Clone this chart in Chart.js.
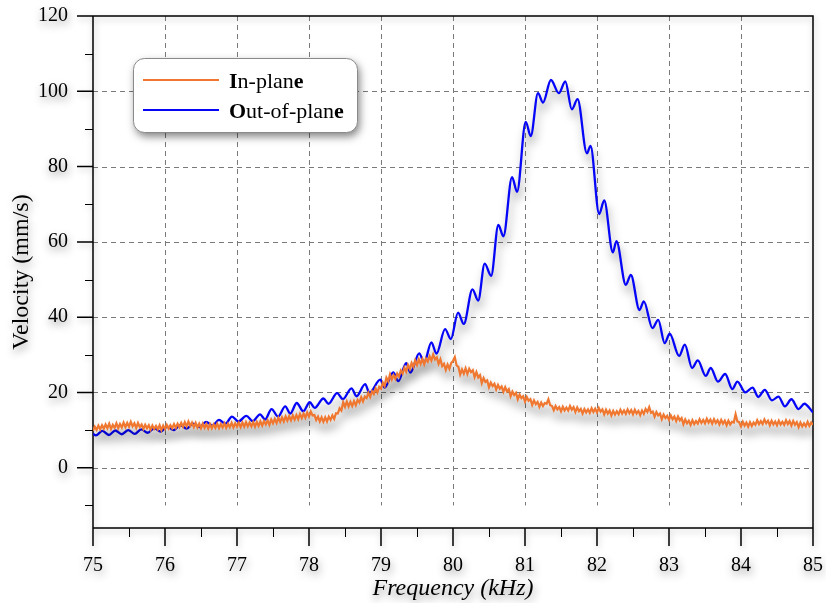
<!DOCTYPE html>
<html>
<head>
<meta charset="utf-8">
<script src="https://cdn.jsdelivr.net/npm/chart.js@4/dist/chart.umd.min.js"></script>
<style>
  html, body { margin: 0; padding: 0; background: #ffffff; }
  #wrap { width: 826px; height: 603px; }
</style>
</head>
<body>
<div id="wrap"><canvas id="c" width="826" height="603"></canvas></div>
<script>
// Axis ticks
const xTicks = [75, 76, 77, 78, 79, 80, 81, 82, 83, 84, 85];
const xMinorTicks = [75.5, 76.5, 77.5, 78.5, 79.5, 80.5, 81.5, 82.5, 83.5, 84.5];
const yTicks = [0, 20, 40, 60, 80, 100, 120];
const yMinorTicks = [-10, 10, 30, 50, 70, 90, 110];

// Out-of-plane velocity (mm/s) against frequency (kHz)
const outOfPlaneFreq = [75.00,75.04,75.13,75.22,75.31,75.40,75.49,75.58,75.67,75.76,
  75.85,75.94,76.03,76.12,76.21,76.30,76.39,76.48,76.57,76.66,
  76.75,76.84,76.93,77.02,77.13,77.22,77.32,77.39,77.48,77.57,
  77.67,77.74,77.83,77.92,78.01,78.08,78.20,78.27,78.39,78.47,
  78.59,78.66,78.78,78.84,78.99,79.05,79.17,79.24,79.35,79.41,
  79.53,79.60,79.70,79.77,79.89,79.97,80.07,80.15,80.27,80.35,
  80.44,80.53,80.63,80.70,80.82,80.89,81.01,81.08,81.18,81.25,
  81.36,81.47,81.56,81.65,81.73,81.86,81.91,82.03,82.10,82.22,
  82.27,82.40,82.47,82.59,82.65,82.77,82.85,82.94,83.01,83.14,
  83.22,83.32,83.40,83.51,83.58,83.68,83.78,83.88,83.95,84.06,
  84.16,84.24,84.33,84.43,84.52,84.61,84.70,84.80,84.88,85.00];
const outOfPlaneVel = [9.0,8.6,9.8,8.7,9.9,8.9,10.0,9.0,10.2,9.3,
  10.5,9.6,10.9,10.0,11.3,10.4,11.7,10.8,12.2,11.2,
  12.7,11.7,13.6,12.3,13.8,12.4,14.2,12.8,15.6,13.6,
  16.3,14.4,17.2,15.0,17.4,15.9,18.4,17.0,19.8,18.2,
  21.1,19.0,22.2,19.9,23.4,21.3,25.3,23.0,27.8,25.3,
  30.4,28.0,33.3,30.3,36.8,34.2,41.2,38.2,47.4,44.4,
  54.2,51.0,64.5,61.5,77.2,73.3,91.9,88.1,99.5,97.0,
  103.0,99.5,102.6,95.2,97.9,83.5,85.5,67.4,71.0,57.2,
  60.2,48.6,51.2,41.9,44.2,37.1,39.3,33.1,35.6,29.7,
  32.7,26.5,28.5,24.4,26.5,22.9,24.9,20.9,22.9,20.0,
  21.3,18.8,20.7,17.9,18.9,16.3,18.2,15.6,17.0,14.7];

// In-plane velocity (mm/s), sampled every 25 Hz from 75 kHz
const inPlaneStart = 75;
const inPlaneStep = 0.025;
const inPlaneVel = [
  9.8,10.9,10.1,11.2, 10.2,11.3,10.4,11.5, 10.5,11.7,10.3,11.4, 10.6,11.8,10.5,11.6, 10.7,12.0,10.8,11.9,
  10.9,12.2,11.0,11.8, 10.6,11.9,10.8,11.5, 10.3,11.4,10.5,11.3, 10.1,11.2,10.3,11.1, 10.2,11.3,10.0,11.2,
  10.3,11.4,10.4,11.3, 10.5,11.6,10.6,11.7, 10.8,11.9,10.9,12.1, 11.0,12.3,11.1,12.0, 10.8,11.9,10.7,11.7,
  10.5,11.7,10.6,11.6, 10.4,11.6,10.5,11.5, 10.6,11.7,10.5,11.6, 10.7,11.8,10.6,11.7, 10.8,11.9,10.7,11.8,
  10.9,12.0,10.8,12.0, 10.9,12.1,11.0,12.0, 11.0,12.1,10.9,12.2, 11.1,12.3,11.2,12.4, 11.5,12.6,11.4,12.8,
  11.8,13.0,11.9,13.3, 12.2,13.4,12.3,13.6, 12.5,13.7,12.6,13.9, 12.8,14.0,12.9,14.3, 13.2,14.4,13.3,14.7,
  13.6,14.9,13.9,14.0, 12.7,13.6,12.3,13.4, 12.2,13.4,12.3,13.6, 12.7,13.9,13.0,14.5, 14.4,15.8,15.2,17.4,
  16.2,17.6,16.3,17.5, 16.4,17.7,16.6,18.0, 17.3,18.7,17.6,18.9, 18.5,19.9,18.8,20.3, 19.6,21.1,20.0,21.5,
  21.0,22.6,21.7,23.9, 23.0,24.8,23.4,24.6, 23.6,25.0,24.2,25.8, 25.0,26.6,25.5,27.3, 26.2,27.8,26.8,28.5,
  27.3,28.8,27.6,28.9, 27.5,29.0,28.2,29.6, 28.5,30.1,28.8,29.3, 27.6,28.8,27.0,27.6, 26.0,27.4,26.3,27.8,
  28.4,29.4,27.2,26.8, 24.8,26.1,25.0,26.4, 24.9,26.3,25.4,25.9, 24.1,25.4,24.0,24.6, 22.5,23.8,22.8,23.2,
  21.4,22.6,21.7,22.3, 20.8,22.0,21.0,21.6, 20.2,21.4,20.3,20.9, 19.0,20.2,19.3,19.9, 18.2,19.4,18.5,19.0,
  17.6,18.8,17.8,18.2, 16.7,17.9,16.9,17.5, 16.2,17.3,16.4,17.2, 17.0,18.2,16.6,16.4, 15.3,16.4,15.5,16.1,
  15.0,16.2,15.2,16.0, 15.2,16.4,15.4,16.1, 14.8,16.0,15.0,15.6, 14.4,15.6,14.7,15.5, 14.6,15.8,14.8,15.7,
  14.7,15.9,14.9,15.5, 14.2,15.4,14.4,15.2, 13.9,15.1,14.1,15.0, 14.2,15.4,14.4,15.2, 14.3,15.5,14.5,15.3,
  14.2,15.4,14.4,15.1, 14.0,15.2,14.3,15.6, 14.8,16.1,14.6,14.9, 13.6,14.8,13.9,14.4, 12.9,14.1,13.2,13.8,
  12.7,13.9,12.9,13.6, 12.4,13.6,12.6,13.2, 11.6,12.8,11.8,12.5, 11.4,12.6,11.6,12.4, 11.7,12.9,11.9,12.7,
  11.8,13.0,12.0,12.8, 11.7,12.9,11.9,12.6, 11.5,12.7,11.7,12.5, 11.3,12.5,11.5,12.2, 12.0,14.2,12.3,12.1,
  11.0,12.2,11.2,12.0, 10.9,12.1,11.1,12.0, 11.4,12.6,11.6,12.4, 11.6,12.8,11.8,12.5, 11.3,12.5,11.5,12.3,
  11.3,12.5,11.5,12.2, 11.4,12.6,11.6,12.4, 11.2,12.4,11.4,12.1, 10.8,12.0,11.0,11.8, 11.0,12.2,11.1,12.0,
  11.4];

const ORANGE = '#f0772f';
const BLUE = '#0505f8';
const SERIF = '"Liberation Serif", "Times New Roman", serif';

const inPlanePoints = inPlaneVel.map((v, i) => ({ x: inPlaneStart + i * inPlaneStep, y: v }));
const outOfPlanePoints = outOfPlaneFreq.map((f, i) => ({ x: f, y: outOfPlaneVel[i] }));

function setShadow(ctx, color, blur, dx, dy) {
  ctx.shadowColor = color;
  ctx.shadowBlur = blur;
  ctx.shadowOffsetX = dx;
  ctx.shadowOffsetY = dy;
}

// Soft drop shadow for tick labels and titles; data lines get their own
const shadowPlugin = {
  id: 'softShadow',
  beforeDraw(chart) {
    const ctx = chart.ctx;
    ctx.save();
    setShadow(ctx, 'rgba(0,0,0,0.45)', 8, 1, 4);
  },
  afterDraw(chart) {
    chart.ctx.restore();
  }
};

// Dashed grid, frame and outer tick marks
const framePlugin = {
  id: 'frame',
  beforeDatasetsDraw(chart) {
    const ctx = chart.ctx;
    const { left, right, top, bottom } = chart.chartArea;
    const xs = chart.scales.x, ys = chart.scales.y;
    ctx.save();
    setShadow(ctx, 'rgba(0,0,0,0)', 0, 0, 0);
    ctx.strokeStyle = '#7a7a7a';
    ctx.lineWidth = 1;
    ctx.setLineDash([5, 4]);
    yTicks.forEach(v => {
      if (v >= ys.max) return;
      const y = Math.round(ys.getPixelForValue(v)) + 0.5;
      ctx.beginPath(); ctx.moveTo(left, y); ctx.lineTo(right, y); ctx.stroke();
    });
    const gridBottom = ys.getPixelForValue(yMinorTicks[0]);
    xTicks.forEach(v => {
      if (v <= xs.min || v >= xs.max) return;
      const x = Math.round(xs.getPixelForValue(v)) + 0.5;
      ctx.beginPath(); ctx.moveTo(x, top); ctx.lineTo(x, gridBottom); ctx.stroke();
    });
    ctx.setLineDash([]);

    setShadow(ctx, 'rgba(0,0,0,0.25)', 6, 1, 3);
    ctx.strokeStyle = '#000';
    ctx.lineWidth = 1.5;
    ctx.beginPath();
    ctx.rect(left, top, right - left, bottom - top);
    yTicks.forEach(v => {
      const y = ys.getPixelForValue(v);
      ctx.moveTo(left - 16, y); ctx.lineTo(left, y);
    });
    xTicks.forEach(v => {
      const x = xs.getPixelForValue(v);
      ctx.moveTo(x, bottom); ctx.lineTo(x, bottom + 18);
    });
    ctx.stroke();
    ctx.lineWidth = 1;
    ctx.beginPath();
    yMinorTicks.forEach(v => {
      const y = Math.round(ys.getPixelForValue(v)) + 0.5;
      ctx.moveTo(left - 8, y); ctx.lineTo(left, y);
    });
    xMinorTicks.forEach(v => {
      const x = Math.round(xs.getPixelForValue(v)) + 0.5;
      ctx.moveTo(x, bottom); ctx.lineTo(x, bottom + 9);
    });
    ctx.stroke();
    ctx.restore();
    setShadow(ctx, 'rgba(0,0,0,0.4)', 10, 2, 7);
  }
};

function drawLegendLabel(ctx, text, x, y) {
  const first = text.slice(0, 1), mid = text.slice(1, -1), last = text.slice(-1);
  ctx.font = 'bold 22px ' + SERIF;
  ctx.fillText(first, x, y); x += ctx.measureText(first).width;
  ctx.font = '22px ' + SERIF;
  ctx.fillText(mid, x, y); x += ctx.measureText(mid).width;
  ctx.font = 'bold 22px ' + SERIF;
  ctx.fillText(last, x, y);
}

// Rounded legend box with drop shadow
const legendPlugin = {
  id: 'roundLegend',
  afterDraw(chart) {
    const ctx = chart.ctx;
    ctx.save();
    setShadow(ctx, 'rgba(0,0,0,0.5)', 9, 2, 4);
    const bx = 133.5, by = 58.5, bw = 224, bh = 74, r = 11;
    ctx.beginPath();
    ctx.roundRect(bx, by, bw, bh, r);
    ctx.fillStyle = '#ffffff';
    ctx.fill();
    setShadow(ctx, 'rgba(0,0,0,0)', 0, 0, 0);
    ctx.strokeStyle = '#8a8a8a';
    ctx.lineWidth = 1;
    ctx.stroke();
    const rows = [80, 110];
    chart.data.datasets.forEach((ds, i) => {
      const y = rows[i];
      ctx.strokeStyle = ds.borderColor;
      ctx.lineWidth = 2;
      ctx.beginPath(); ctx.moveTo(143, y); ctx.lineTo(219, y); ctx.stroke();
      ctx.fillStyle = '#000';
      ctx.textBaseline = 'alphabetic';
      drawLegendLabel(ctx, ds.label, 229, y + 7.5);
    });
    ctx.restore();
  }
};

// Fixed axis boxes: no extra room reserved for overhanging tick labels
function fixX(s) { s.height = 75; s.paddingLeft = 0; s.paddingRight = 0; }
function fixY(s) { s.width = 93; s.paddingTop = 0; s.paddingBottom = 0; }

new Chart(document.getElementById('c').getContext('2d'), {
  type: 'line',
  data: {
    datasets: [
      { label: 'In-plane', data: inPlanePoints, borderColor: ORANGE, borderWidth: 2.2,
        pointRadius: 0, tension: 0 },
      { label: 'Out-of-plane', data: outOfPlanePoints, borderColor: BLUE, borderWidth: 2.3,
        pointRadius: 0, cubicInterpolationMode: 'monotone' }
    ]
  },
  options: {
    responsive: false,
    animation: false,
    devicePixelRatio: 1,
    layout: { padding: { left: 0, right: 13, top: 16, bottom: 0 } },
    plugins: { legend: { display: false }, tooltip: { enabled: false } },
    scales: {
      x: {
        type: 'linear', min: 75, max: 85,
        afterBuildTicks: s => { s.ticks = xTicks.map(v => ({ value: v })); },
        afterFit: fixX,
        grid: { display: false, drawTicks: false },
        border: { display: false },
        ticks: { color: '#000', font: { family: SERIF, size: 20 }, padding: 26,
                 autoSkip: false, maxRotation: 0 },
        title: { display: true, text: 'Frequency (kHz)', color: '#000',
                 font: { family: SERIF, size: 24, style: 'italic' },
                 padding: { top: 0, bottom: 0 } }
      },
      y: {
        type: 'linear', min: -16, max: 120,
        afterBuildTicks: s => { s.ticks = yTicks.map(v => ({ value: v })); },
        afterFit: fixY,
        grid: { display: false, drawTicks: false },
        border: { display: false },
        ticks: { color: '#000', font: { family: SERIF, size: 20 }, padding: 25, autoSkip: false },
        title: { display: true, text: 'Velocity (mm/s)', color: '#000',
                 font: { family: SERIF, size: 24 },
                 padding: { top: 7, bottom: 0 } }
      }
    }
  },
  plugins: [shadowPlugin, framePlugin, legendPlugin]
});
</script>
</body>
</html>
